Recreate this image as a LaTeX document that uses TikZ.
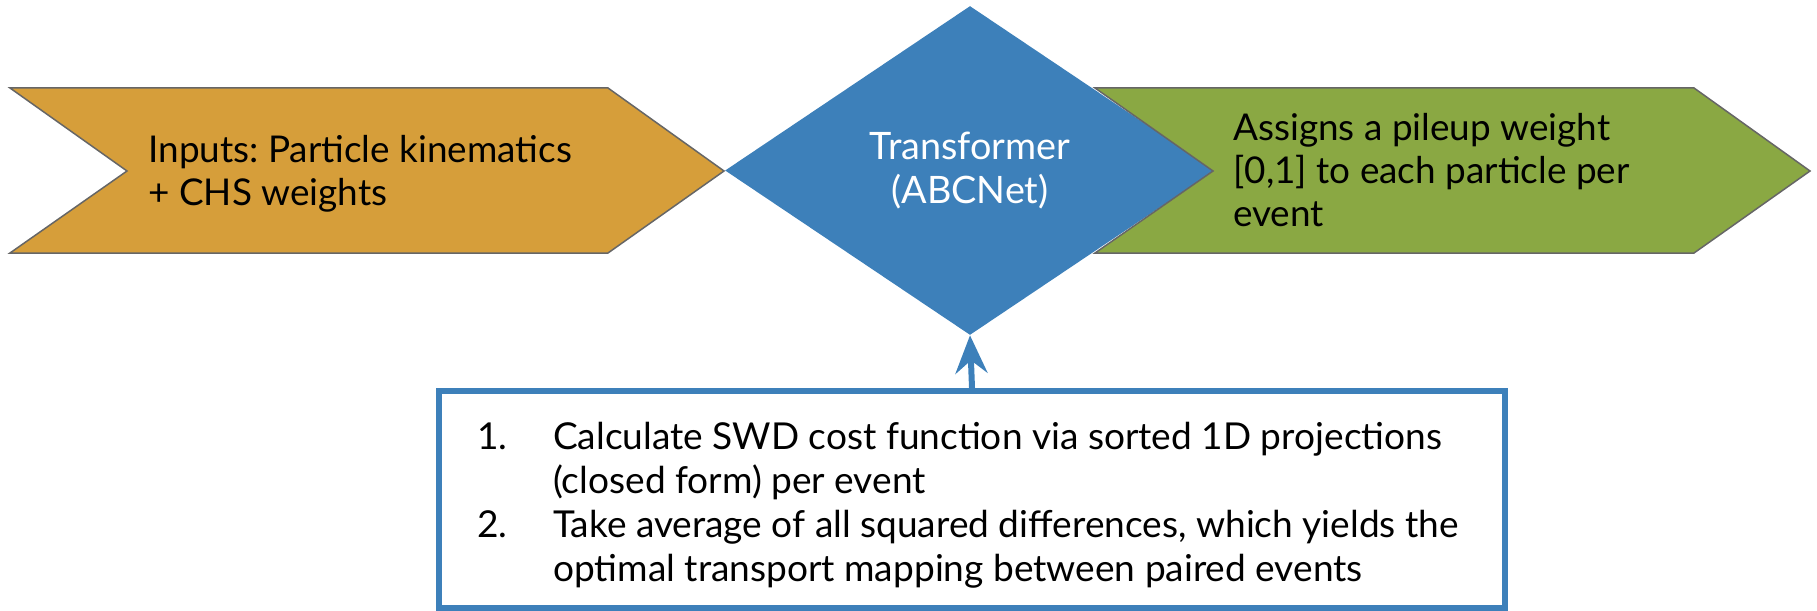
\documentclass[tikz,border=0pt]{standalone}
\usepackage{fontspec}
\setmainfont{Lato}
\usepackage{tikz}
\usetikzlibrary{arrows.meta,shapes.geometric}
\frenchspacing

\definecolor{inorange}{HTML}{D69E3A}
\definecolor{netblue}{HTML}{3D80BA}
\definecolor{outgreen}{HTML}{8AA843}
\definecolor{edgegray}{HTML}{666666}

\begin{document}
\begin{tikzpicture}[
            x=0.02cm, y=-0.02cm,
            chev/.style={draw=edgegray,line width=0.03cm,line join=miter},
            lab/.style={font=\fontsize{21}{24.7}\selectfont,align=left,inner sep=0pt},
            net/.style={diamond,fill=netblue,draw=none,inner sep=0pt,aspect=1.5,
                        minimum width=9.8cm,minimum height=6.58cm,text=white,align=center,
                        font=\fontsize{21.5}{24.7}\selectfont},
            lossbox/.style={draw=netblue,line width=0.12cm,fill=white,rectangle,
                            minimum width=21.32cm,minimum height=4.34cm,inner sep=0pt,
                            font=\fontsize{21.1}{25}\selectfont},
            link/.style={-{Stealth[length=0.76cm,width=0.64cm,inset=0.26cm]},draw=netblue,line width=0.12cm}
        ]
        \useasboundingbox (0,0) rectangle (1817,611);
        % input chevron
        \draw[chev,fill=inorange] (10,88) -- (608,88) -- (724,171) -- (608,253)
            -- (10,253) -- (127,171) -- cycle;
        \node[lab,anchor=west] (inputs) at (148,174) {Inputs: Particle kinematics\\+ CHS weights};
        % network
        \node[net] (abcnet) at (970,170.5) {Transformer\\(ABCNet)};
        % output chevron
        \draw[chev,fill=outgreen] (1095,88) -- (1694,88) -- (1810,171) -- (1694,253)
            -- (1095,253) -- (1213,171) -- cycle;
        \node[lab,anchor=west] (weights) at (1233,170) {Assigns a pileup weight\\{}[0,1] to each particle per\\event};
        % loss box
        \node[lossbox] (loss) at (972,499.5) {\begin{tabular}{@{}p{1.52cm}@{}l@{\hspace{0.16cm}}}
            \rule{0pt}{25.5pt}1. & Calculate SWD cost function via sorted 1D projections\\
               & (closed form) per event\\
            2. & Take average of all squared differences, which yields the\\
               & optimal transport mapping between paired events
        \end{tabular}};
        \draw[link] (loss.north) -- (abcnet.south);
        \end{tikzpicture}
\end{document}
